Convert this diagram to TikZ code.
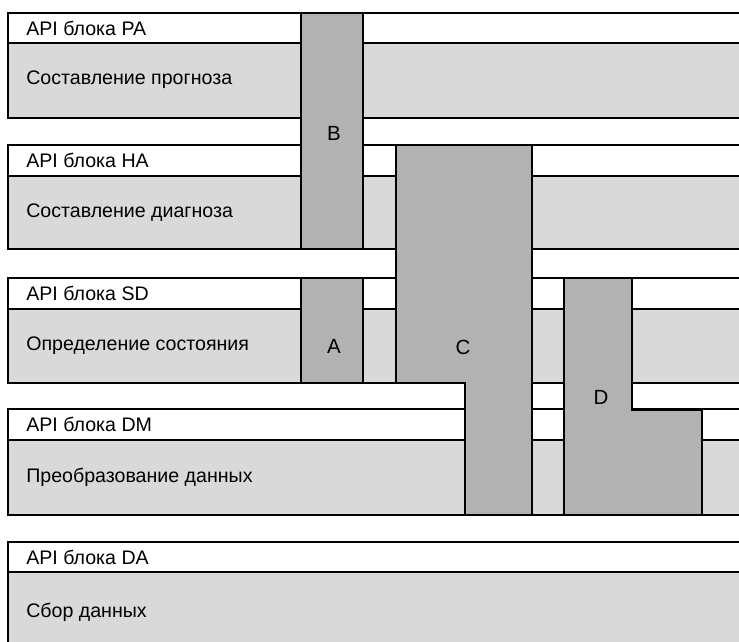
\documentclass[tikz,border=0pt]{standalone}
\usepackage{fontspec}
\setmainfont{Liberation Sans}
\begin{document}
\begin{tikzpicture}[x=1pt,y=-1pt,line width=2.6pt,
    apistrip/.style={draw,fill=white},
    bodystrip/.style={draw,fill=gray!30},
    column/.style={draw,fill=gray!60},
    lbl/.style={anchor=west,inner sep=0pt,font=\fontsize{19.6}{23}\selectfont},
    colname/.style={inner sep=0pt,font=\fontsize{20.5}{23}\selectfont}]
  \useasboundingbox (0,0) rectangle (739,642);
  \clip (0,0) rectangle (739,642);
  \fill[white] (0,0) rectangle (739,642);
  % layers
  \draw[apistrip] (8,13) rectangle (760,43); \draw[bodystrip] (8,43) rectangle (760,118);
  \draw[apistrip] (8,145) rectangle (760,176); \draw[bodystrip] (8,176) rectangle (760,249);
  \draw[apistrip] (8,278) rectangle (760,309); \draw[bodystrip] (8,309) rectangle (760,383);
  \draw[apistrip] (8,409) rectangle (760,440); \draw[bodystrip] (8,440) rectangle (760,515);
  \draw[apistrip] (8,542) rectangle (760,572); \draw[bodystrip] (8,572) rectangle (760,660);
  % columns
  \draw[column] (301,13) rectangle (363,249);
  \draw[column] (301,278) rectangle (363,383);
  \draw[column] (396,145) -- (532,145) -- (532,515) -- (465,515) -- (465,383) -- (396,383) -- cycle;
  \draw[column] (564,278) -- (632,278) -- (632,410) -- (702,410) -- (702,515) -- (564,515) -- cycle;
  % texts
  \node[lbl] (paapi) at (25,28) {API блока PA};
  \node[lbl] (pabody) at (25,80) {Составление прогноза};
  \node[lbl] (haapi) at (25,160.5) {API блока HA};
  \node[lbl] (habody) at (25,212.5) {Составление диагноза};
  \node[lbl] (sdapi) at (25,293.5) {API блока SD};
  \node[lbl] (sdbody) at (25,346) {Определение состояния};
  \node[lbl] (dmapi) at (25,424.5) {API блока DM};
  \node[lbl] (dmbody) at (25,477.5) {Преобразование данных};
  \node[lbl] (daapi) at (25,557) {API блока DA};
  \node[lbl] (dabody) at (25,612) {Сбор данных};
  \node[colname] (colB) at (334,133) {B};
  \node[colname] (colA) at (334,346) {A};
  \node[colname] (colC) at (463,347) {C};
  \node[colname] (colD) at (601,397) {D};
\end{tikzpicture}
\end{document}
